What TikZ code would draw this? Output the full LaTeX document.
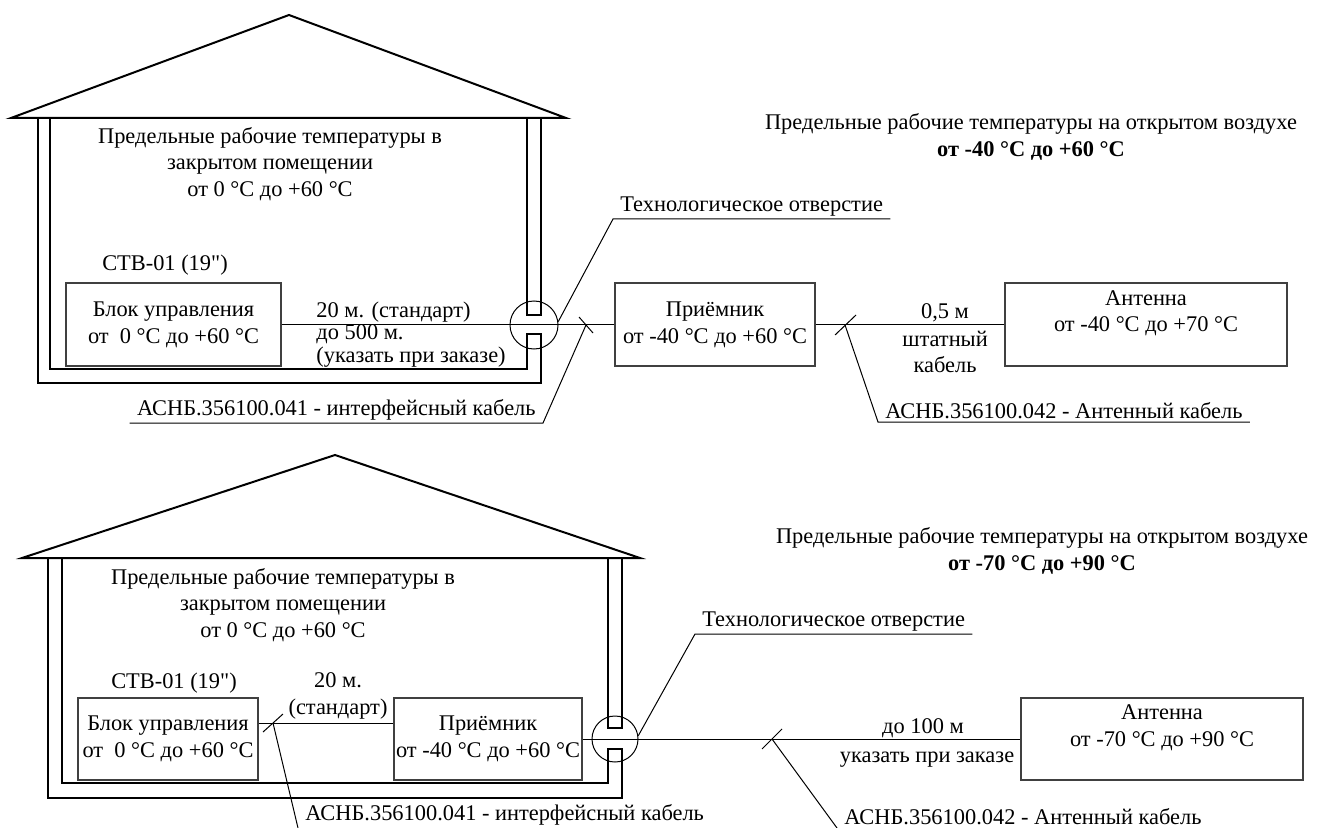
\documentclass[tikz,border=0pt]{standalone}
\usepackage{fontspec}
\setmainfont{Liberation Serif}
\newfontfamily\plainserif{Liberation Serif}
\usetikzlibrary{calc}

\begin{document}
\begin{tikzpicture}[x=0.5pt, y=-0.5pt, font=\fontsize{11.2}{13.4}\selectfont,
		roof/.style={line width=1pt, line join=miter},
		wall/.style={line width=1.2pt, line join=miter},
		unit/.style={draw=black!75, line width=0.7pt, rectangle, inner sep=0pt, align=center},
		cable/.style={line width=0.5pt},
		hole/.style={draw, circle, line width=0.5pt, inner sep=0pt},
		txt/.style={align=center, inner sep=0pt},
		tag/.style={inner xsep=3.5pt, inner ysep=1.2pt}]
	\useasboundingbox (0,0) rectangle (1320,828);

	\draw[roof] (11,118) -- (289,15) -- (566,118) -- cycle;
	\draw[wall] (38,118) -- (38,383) -- (541,383) -- (541,334) -- (527,334) -- (527,369) -- (50,369) -- (50,118);
	\draw[wall] (527,118) -- (527,315) -- (541,315) -- (541,118);

	\node[txt] (indoor1) at (270,164) {Предельные рабочие температуры в\\закрытом помещении\\от 0 °C до +60 °C};
	\node[txt] (outdoor1) at (1031,137) {Предельные рабочие температуры на открытом воздухе\\\textbf{от -40 °C до +60 °C}};
	\node[txt] (stv1) at (165,265) {СТВ-01 (19{\plainserif"})};

	\node[unit, minimum width=107.5pt, minimum height=41.5pt] (blok1) at (173.5,324.5) {Блок управления\\от~~0 °C до +60 °C};
	\node[unit, minimum width=100pt, minimum height=41.5pt] (recv1) at (715,324.5) {Приёмник\\от -40 °C до +60 °C};
	\node[unit, minimum width=141pt, minimum height=41.5pt] (ant1) at (1146,324.5) {Антенна\\от -40 °C до +70 °C\\\mbox{}};
	\node[hole, minimum size=24pt] (hole1) at (534,325) {};

	\draw[cable] (blok1.east) -- (recv1.west);
	\draw[cable] (recv1.east) -- (ant1.west);

	\node[anchor=base west, inner sep=0pt] (len1) at (316,317) {20 м. (стандарт)};
	\node[anchor=base west, inner sep=0pt] (max1) at (316,339) {до 500 м.};
	\node[anchor=base west, inner sep=0pt] (ord1) at (316,362) {(указать при заказе)};
	\node[anchor=base, inner sep=0pt] (len2) at (945,318) {0,5 м};
	\node[txt] (std1) at (945,352) {штатный\\кабель};

	\node[tag, anchor=south west] (tech1) at (613,219) {Технологическое отверстие};
	\draw[cable] (hole1.8) -- (tech1.south west) -- (tech1.south east);

	\coordinate (t1) at (586,325);
	\coordinate (t2) at (845,325);
	\draw[cable] (t1) ++(-7,-8) -- ++(14,16);
	\draw[cable] (t2) ++(-10,10) -- ++(21,-20);
	\node[tag, anchor=south east] (kab1) at (543,423) {АСНБ.356100.041 - интерфейсный кабель};
	\node[tag, anchor=south west] (kab2) at (878,422) {АСНБ.356100.042 - Антенный кабель};
	\draw[cable] (t1) -- (kab1.south east) -- (kab1.south west);
	\draw[cable] (t2) -- (kab2.south west) -- (kab2.south east);

	\draw[roof] (22,558) -- (335,455) -- (640,558) -- cycle;
	\draw[wall] (48,558) -- (48,798) -- (622,798) -- (622,749) -- (608,749) -- (608,783) -- (62,783) -- (62,558);
	\draw[wall] (608,558) -- (608,728) -- (622,728) -- (622,558);

	\node[txt] (indoor2) at (283,605) {Предельные рабочие температуры в\\закрытом помещении\\от 0 °C до +60 °C};
	\node[txt] (outdoor2) at (1042,551) {Предельные рабочие температуры на открытом воздухе\\\textbf{от -70 °C до +90 °C}};
	\node[txt] (stv2) at (174,683) {СТВ-01 (19{\plainserif"})};

	\node[unit, minimum width=90pt, minimum height=41pt] (blok2) at (168,739) {Блок управления\\от~~0 °C до +60 °C};
	\node[unit, minimum width=94pt, minimum height=41pt] (recv2) at (488,739) {Приёмник\\от -40 °C до +60 °C};
	\node[unit, minimum width=141pt, minimum height=41pt] (ant2) at (1162,739) {Антенна\\от -70 °C до +90 °C\\\mbox{}};
	\node[hole, minimum size=23pt] (hole2) at (615,739) {};

	\draw[cable] ([yshift=8pt]blok2.east) -- ([yshift=8pt]recv2.west);
	\draw[cable] (recv2.east) -- (ant2.west);

	\node[txt] (len3) at (338,696) {20 м.\\(стандарт)};
	\node[anchor=base, inner sep=0pt] (len4) at (923,733) {до 100 м};
	\node[anchor=base, inner sep=0pt] (ord2) at (927,762) {указать при заказе};

	\node[tag, anchor=south west] (tech2) at (695,634) {Технологическое отверстие};
	\draw[cable] (hole2.8) -- (tech2.south west) -- (tech2.south east);

	\coordinate (t3) at (273,723);
	\coordinate (t4) at (772,739);
	\draw[cable] (t3) ++(-10,9) -- ++(20,-18);
	\draw[cable] (t4) ++(-10,10) -- ++(20,-20);
	\node[tag, anchor=south west] (kab3) at (298,828) {АСНБ.356100.041 - интерфейсный кабель};
	\node[tag, anchor=south west] (kab4) at (837,828) {АСНБ.356100.042 - Антенный кабель};
	\draw[cable] (t3) -- (kab3.south west);
	\draw[cable] (t4) -- (kab4.south west);
\end{tikzpicture}
\end{document}
